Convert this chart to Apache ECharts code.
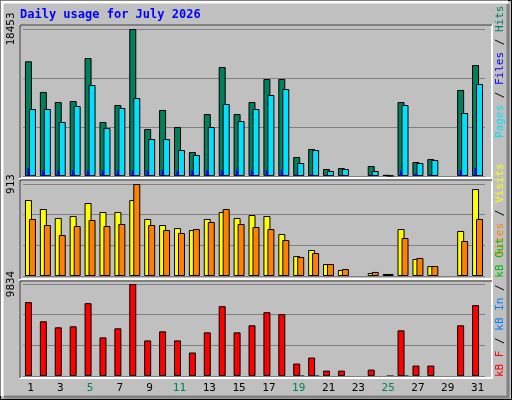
<!DOCTYPE html>
<html><head><meta charset="utf-8">
<script src="https://cdn.jsdelivr.net/npm/echarts@6/dist/echarts.min.js"></script>
<style>html,body{margin:0;padding:0;background:#c0c0c0}#c{width:512px;height:400px}</style>
</head><body><div id="c"></div>
<script>
const days = ['1','2','3','4','5','6','7','8','9','10','11','12','13','14','15','16','17','18','19','20','21','22','23','24','25','26','27','28','29','30','31'];
const weekend = ['4','5','11','12','18','19','25','26'];
const hits = [14400,10550,9290,9410,14810,6780,8910,18453,5900,8290,6150,3010,7780,13680,7780,9290,12180,12180,2390,3390,880,1000,0,1255,150,9290,1760,2130,0,10800,13930];
const pagesCyan = [8410,8410,6780,8790,11420,6030,8540,9790,4640,4640,3260,2640,6150,9040,6900,8410,10170,10920,1630,3260,630,880,0,630,40,8910,1630,2010,0,7910,11550];
const filesBlue = [1000,750,700,750,750,750,750,750,750,750,650,750,750,750,750,750,750,750,200,200,100,100,0,100,0,700,300,150,0,750,1000];
const visits = [754,665,576,595,724,635,635,754,566,506,476,456,566,635,576,605,595,417,198,258,119,60,0,30,20,466,169,99,0,447,863];
const sites = [566,506,407,496,556,496,516,913,506,456,427,466,536,665,516,486,466,357,189,228,119,69,0,40,20,377,179,99,0,347,566];
const kbF = [7896,5850,5204,5312,7788,4127,5096,9834,3804,4773,3804,2512,4666,7465,4666,5419,6819,6604,1328,1974,574,574,0,682,0,4881,1113,1113,0,5419,7573];
const kbIn = [0,0,0,0,0,0,0,0,0,0,0,0,0,0,0,0,0,0,60,60,0,0,0,0,60,60,0,0,0,0,0];
const maxes = [18453, 913, 9834];

const nz = a => a.map(v => v > 0 ? v : '-');
const font = 'DejaVu Sans Mono';
const grids = [
  {left:23, width:462, top:29, height:147},
  {left:23, width:462, top:184, height:92},
  {left:23, width:462, top:284, height:92}
];
function xa(g, show) {
  return {type:'category', gridIndex:g, data:days, axisLine:{show:false}, axisTick:{show:false},
    axisLabel:{show:show, margin:7, fontFamily:font, fontSize:11,
      color:(v)=> weekend.includes(v) ? '#00805c' : '#000'}};
}
function ya(g) {
  const m = maxes[g];
  return {type:'value', gridIndex:g, min:0, max:m, interval:m/3, axisLine:{show:false}, axisTick:{show:false},
    splitLine:{lineStyle:{color:'#808080', width:1}},
    axisLabel:{rotate:90, margin:6, fontFamily:font, fontSize:11, color:'#000',
      formatter:v => Math.abs(v - m) < 1e-6 ? String(m) : ''}};
}
const bs = (c) => ({color:c, borderColor:'#000', borderWidth:1});
const series = [
  {type:'bar', xAxisIndex:0, yAxisIndex:0, data:nz(hits), barWidth:7, barGap:'-43%', itemStyle:bs('#00805c'), z:2},
  {type:'bar', xAxisIndex:0, yAxisIndex:0, data:nz(pagesCyan), barWidth:7, barGap:'-43%', itemStyle:bs('#00e0ff'), z:3},
  {type:'bar', xAxisIndex:3, yAxisIndex:0, data:nz(filesBlue), barWidth:2, barGap:'100%', itemStyle:{color:'#0000ff'}, z:4},
  {type:'bar', xAxisIndex:3, yAxisIndex:0, data:days.map(()=>'-'), barWidth:2, barGap:'100%'},
  {type:'bar', xAxisIndex:1, yAxisIndex:1, data:nz(visits), barWidth:7, barGap:'-43%', itemStyle:bs('#ffff00'), z:2},
  {type:'bar', xAxisIndex:1, yAxisIndex:1, data:nz(sites), barWidth:7, barGap:'-43%', itemStyle:bs('#ff8000'), z:3},
  {type:'bar', xAxisIndex:2, yAxisIndex:2, data:nz(kbF), barWidth:7, barGap:'-43%', itemStyle:bs('#ff0000'), z:2},
  {type:'bar', xAxisIndex:2, yAxisIndex:2, data:kbIn.map(v=>v>0?v:'-'), barWidth:7, barGap:'-43%', itemStyle:{color:'#000'}, z:3}
];
function frame(y1, y2) {
  return [
    {type:'rect', shape:{x:20,y:y1,width:472,height:y2-y1}, style:{fill:'none', stroke:'#fff', lineWidth:2}, z:-1},
    {type:'polyline', shape:{points:[[20,y2],[20,y1],[492,y1]]}, style:{stroke:'#000', lineWidth:1, fill:null}, z:-1}
  ];
}
function vtext(x, y, parts) {
  const rich = {}; let s = '';
  parts.forEach((p,i)=>{ rich['p'+i] = {fill:p[1], fontFamily:font, fontSize:11}; s += '{p'+i+'|'+p[0]+'}'; });
  return {type:'text', x:x, y:y, rotation:Math.PI/2, style:{text:s, rich:rich, align:'left', verticalAlign:'middle'}, z:5};
}
const graphic = [
  {type:'rect', shape:{x:0.5,y:0.5,width:511,height:399}, style:{fill:'#c0c0c0', stroke:'#000', lineWidth:1}, z:-3},
  {type:'polyline', shape:{points:[[2,396],[2,2],[508,2]]}, style:{stroke:'#fff', lineWidth:3, fill:null}, z:-2},
  {type:'polyline', shape:{points:[[4,397],[508,397],[508,4]]}, style:{stroke:'#808080', lineWidth:3, fill:null}, z:-2},
  ...frame(25,178), ...frame(180,279), ...frame(281,378),
  {type:'text', x:20, y:15, style:{text:'Daily usage for July 2026', fill:'#0000ff', fontFamily:font, fontSize:12, fontWeight:'bold', verticalAlign:'middle'}},
  vtext(500, 138, [['Pages','#00e0ff'],[' / ','#000'],['Files','#0000ff'],[' / ','#000'],['Hits','#00805c']]),
  vtext(500, 256, [['Sites','#ff8000'],[' / ','#000'],['Visits','#ffff00']]),
  vtext(500, 377, [['kB F','#ff0000'],[' / ','#000'],['kB In','#0080ff'],[' / ','#000'],['kB Out','#00c000']])
];
const chart = echarts.init(document.getElementById('c'));
chart.setOption({
  animation:false, backgroundColor:'#c0c0c0',
  grid:grids,
  xAxis:[xa(0,false), xa(1,false), xa(2,true), Object.assign(xa(0,false),{})],
  yAxis:[ya(0), ya(1), ya(2)],
  series:series, graphic:graphic
});
</script></body></html>
